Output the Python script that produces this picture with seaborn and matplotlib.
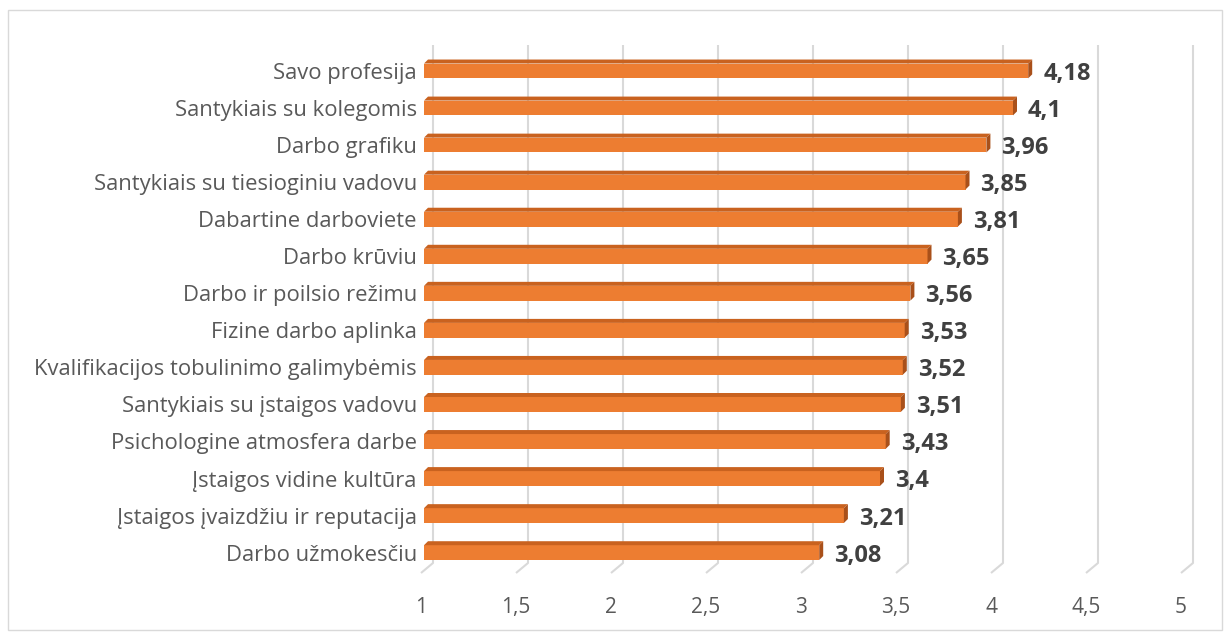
import matplotlib
matplotlib.use("Agg")
import matplotlib.pyplot as plt
import seaborn as sns
from matplotlib.patches import Polygon, Rectangle

categories = [
    "Savo profesija",
    "Santykiais su kolegomis",
    "Darbo grafiku",
    "Santykiais su tiesioginiu vadovu",
    "Dabartine darboviete",
    "Darbo krūviu",
    "Darbo ir poilsio režimu",
    "Fizine darbo aplinka",
    "Kvalifikacijos tobulinimo galimybėmis",
    "Santykiais su įstaigos vadovu",
    "Psichologine atmosfera darbe",
    "Įstaigos vidine kultūra",
    "Įstaigos įvaizdžiu ir reputacija",
    "Darbo užmokesčiu",
]
values = [4.18, 4.1, 3.96, 3.85, 3.81, 3.65, 3.56, 3.53, 3.52, 3.51, 3.43, 3.4, 3.21, 3.08]
value_labels = ["4,18", "4,1", "3,96", "3,85", "3,81", "3,65", "3,56", "3,53", "3,52", "3,51", "3,43", "3,4", "3,21", "3,08"]
ticks = [1, 1.5, 2, 2.5, 3, 3.5, 4, 4.5, 5]
tick_labels = ["1", "1,5", "2", "2,5", "3", "3,5", "4", "4,5", "5"]

sns.set_theme(style="white")
plt.rcParams["font.family"] = ["Open Sans", "DejaVu Sans"]

W, H = 1228, 635
fig = plt.figure(figsize=(W / 100, H / 100), dpi=100)
fig.patch.set_facecolor("white")

# Outer chart border
fig.patches.append(Rectangle((8 / W, 5 / H), (1222 - 8) / W, (625 - 5) / H,
                             transform=fig.transFigure, fill=False,
                             edgecolor="#d9d9d9", linewidth=1.0))

px_per_unit = 190.0
px_per_row = 37.04
ax_left_px, ax_right_px = 421, 1194
ax_top_px, ax_bot_px = 45, 573
ax = fig.add_axes([ax_left_px / W, 1 - ax_bot_px / H,
                   (ax_right_px - ax_left_px) / W, (ax_bot_px - ax_top_px) / H])

xmin = 1 - 3 / px_per_unit
xmax = 5 + 10 / px_per_unit
ytop = -0.70
ybot = 13.55
yfloor_back = 13.28

sns.barplot(x=values, y=categories, orient="h", color="#ED7D31", width=0.4,
            saturation=1, ax=ax, zorder=3)

dx = 4 / px_per_unit
dy = 4 / px_per_row
for p, v, lab in zip(ax.patches, values, value_labels):
    p.set_x(1)
    p.set_width(v - 1)
    p.set_edgecolor("none")
    y0 = p.get_y()          # top (smaller index) in data
    h = p.get_height()
    y1 = y0 + h
    x0, x1 = 1, v
    top = Polygon([(x0, y0), (x1, y0), (x1 + dx, y0 - dy), (x0 + dx, y0 - dy)],
                  closed=True, facecolor="#C9621F", edgecolor="none", zorder=3)
    side = Polygon([(x1, y0), (x1, y1), (x1 + dx, y1 - dy), (x1 + dx, y0 - dy)],
                   closed=True, facecolor="#A9501A", edgecolor="none", zorder=3)
    ax.add_patch(top)
    ax.add_patch(side)
    ax.text(v + 15 / px_per_unit, y0 + h / 2 + 0.08, lab, ha="left", va="center",
            fontsize=17, fontweight="bold", color="#404040", zorder=4)

# Gridlines with 3D floor
gb = 9 / px_per_unit
gf = -3 / px_per_unit
for t in ticks:
    ax.plot([t + gb, t + gb, t + gf], [ytop, yfloor_back, ybot],
            color="#d9d9d9", linewidth=1.5, zorder=1, clip_on=False,
            solid_capstyle="butt")

ax.set_xlim(xmin, xmax)
ax.set_ylim(ybot, ytop)
ax.set_xticks([t + gf for t in ticks])
ax.set_xticklabels(tick_labels, fontsize=15, color="#595959")
ax.tick_params(axis="x", length=0, pad=17)
ax.tick_params(axis="y", length=0, pad=3, labelsize=15.8, labelcolor="#595959")
ax.set_xlabel("")
ax.set_ylabel("")
for s in ax.spines.values():
    s.set_visible(False)
ax.set_facecolor("none")
ax.grid(False)

fig.savefig("out.png", dpi=100, facecolor="white")
